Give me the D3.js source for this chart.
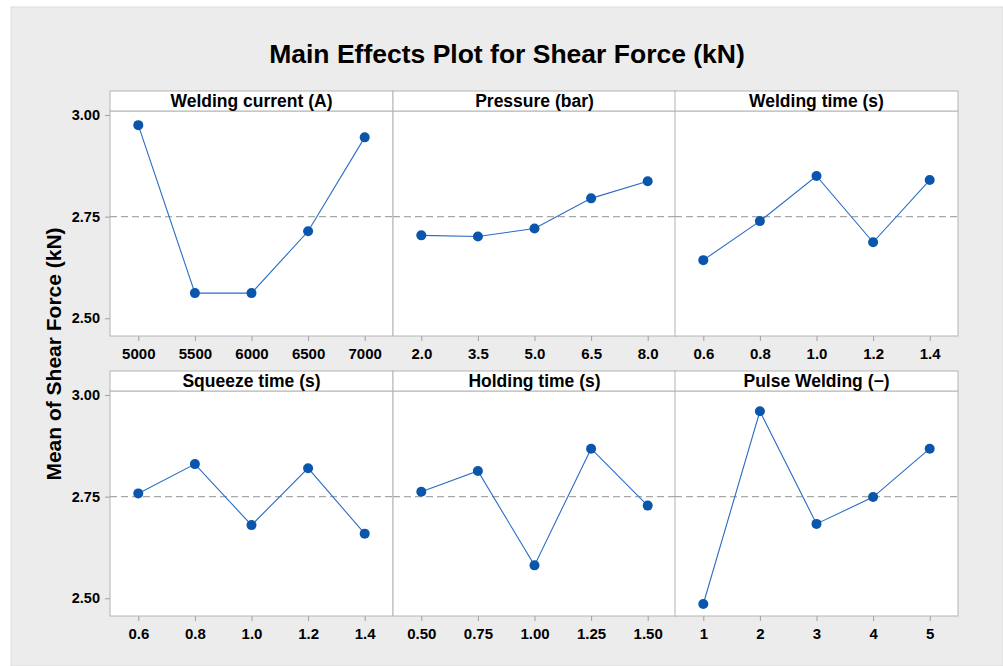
<!DOCTYPE html>
<html>
<head>
<meta charset="utf-8">
<script src="https://cdn.jsdelivr.net/npm/d3@7"></script>
<style>
  html, body { margin: 0; padding: 0; background: #ffffff; }
  svg { display: block; font-family: "Liberation Sans", Arial, sans-serif; }
</style>
</head>
<body>
<svg id="chart" width="1003" height="666"></svg>
<script>
// Factor names and their levels
const factors = ["Welding current (A)", "Pressure (bar)", "Welding time (s)",
                 "Squeeze time (s)", "Holding time (s)", "Pulse Welding (\u2212)"];
const levelsCurrent  = ["5000", "5500", "6000", "6500", "7000"];
const levelsPressure = ["2.0", "3.5", "5.0", "6.5", "8.0"];
const levelsWeldTime = ["0.6", "0.8", "1.0", "1.2", "1.4"];
const levelsSqueeze  = ["0.6", "0.8", "1.0", "1.2", "1.4"];
const levelsHolding  = ["0.50", "0.75", "1.00", "1.25", "1.50"];
const levelsPulse    = ["1", "2", "3", "4", "5"];

// Mean shear force (kN) at each level
const meanCurrent  = [2.975, 2.562, 2.562, 2.714, 2.945];
const meanPressure = [2.704, 2.701, 2.721, 2.795, 2.837];
const meanWeldTime = [2.643, 2.739, 2.850, 2.687, 2.840];
const meanSqueeze  = [2.758, 2.830, 2.680, 2.820, 2.659];
const meanHolding  = [2.762, 2.813, 2.581, 2.868, 2.728];
const meanPulse    = [2.486, 2.960, 2.683, 2.749, 2.868];

// Overall mean shown as the dashed reference line
const grandMean = 2.75;
const yTicks = [2.50, 2.75, 3.00];

const levelSets = [levelsCurrent, levelsPressure, levelsWeldTime, levelsSqueeze, levelsHolding, levelsPulse];
const meanSets  = [meanCurrent, meanPressure, meanWeldTime, meanSqueeze, meanHolding, meanPulse];

const svg = d3.select("#chart");

// Gray page background
svg.append("rect").attr("x", 11).attr("y", 7).attr("width", 992).attr("height", 659)
  .attr("fill", "#ececec").attr("stroke", "#dddddd").attr("stroke-width", 1);

// Title
svg.append("text").attr("x", 507).attr("y", 63).attr("text-anchor", "middle")
  .attr("font-size", 26.5).attr("font-weight", "bold").attr("fill", "#000")
  .text("Main Effects Plot for Shear Force (kN)");

// Shared y-axis title
svg.append("text").attr("transform", "translate(61,354) rotate(-90)")
  .attr("text-anchor", "middle").attr("font-size", 21).attr("font-weight", "bold").attr("fill", "#000")
  .text("Mean of Shear Force (kN)");

// Panel grid
const colX = [110, 393, 675];
const panelW = 283;
const rowTop = [91, 371];
const headerH = 20;
const plotH = 225;

const y = d3.scaleLinear().domain([2.4565, 3.0098]).range([plotH, 0]);

factors.forEach((name, i) => {
  const col = i % 3, row = Math.floor(i / 3);
  const g = svg.append("g").attr("transform", `translate(${colX[col]},${rowTop[row]})`);
  const levels = levelSets[i], means = meanSets[i];

  const x = d3.scalePoint().domain(levels).range([0, panelW]).padding(0.5);
  const plot = g.append("g").attr("transform", `translate(0,${headerH})`);

  // header strip
  g.append("rect").attr("x", 0).attr("y", 0).attr("width", panelW).attr("height", headerH)
    .attr("fill", "#ffffff").attr("stroke", "#b4b4b4").attr("stroke-width", 1);
  g.append("text").attr("x", panelW / 2).attr("y", headerH / 2 + 6).attr("text-anchor", "middle")
    .attr("font-size", 17.5).attr("font-weight", "bold").attr("fill", "#000").text(name);

  // plot area
  plot.append("rect").attr("x", 0).attr("y", 0).attr("width", panelW).attr("height", plotH)
    .attr("fill", "#ffffff").attr("stroke", "#b4b4b4").attr("stroke-width", 1);

  // mean reference line
  plot.append("line").attr("x1", 0).attr("x2", panelW)
    .attr("y1", y(grandMean)).attr("y2", y(grandMean))
    .attr("stroke", "#a8a8a8").attr("stroke-width", 1.2).attr("stroke-dasharray", "7,4");

  // x axis
  const xAxis = plot.append("g").attr("transform", `translate(0,${plotH})`)
    .call(d3.axisBottom(x).tickSize(5).tickPadding(7));
  xAxis.select(".domain").remove();
  xAxis.selectAll(".tick line").attr("stroke", "#a0a0a0");
  xAxis.selectAll(".tick text").attr("font-size", 15).attr("font-weight", "bold")
    .attr("fill", "#000").attr("font-family", "Liberation Sans, Arial, sans-serif");

  // y axis on first column only
  if (col === 0) {
    const yAxis = plot.append("g")
      .call(d3.axisLeft(y).tickValues(yTicks).tickFormat(d3.format(".2f")).tickSize(5).tickPadding(5));
    yAxis.select(".domain").remove();
    yAxis.selectAll(".tick line").attr("stroke", "#a0a0a0");
    yAxis.selectAll(".tick text").attr("font-size", 14.5).attr("font-weight", "bold")
      .attr("fill", "#000").attr("font-family", "Liberation Sans, Arial, sans-serif");
  }

  const pts = levels.map((l, k) => ({ l, v: means[k] }));

  plot.append("path").datum(pts)
    .attr("fill", "none").attr("stroke", "#2a6cc4").attr("stroke-width", 1.1)
    .attr("d", d3.line().x(d => x(d.l)).y(d => y(d.v)));

  plot.selectAll("circle").data(pts).enter().append("circle")
    .attr("cx", d => x(d.l)).attr("cy", d => y(d.v)).attr("r", 5)
    .attr("fill", "#0b56ad");
});
</script>
</body>
</html>
